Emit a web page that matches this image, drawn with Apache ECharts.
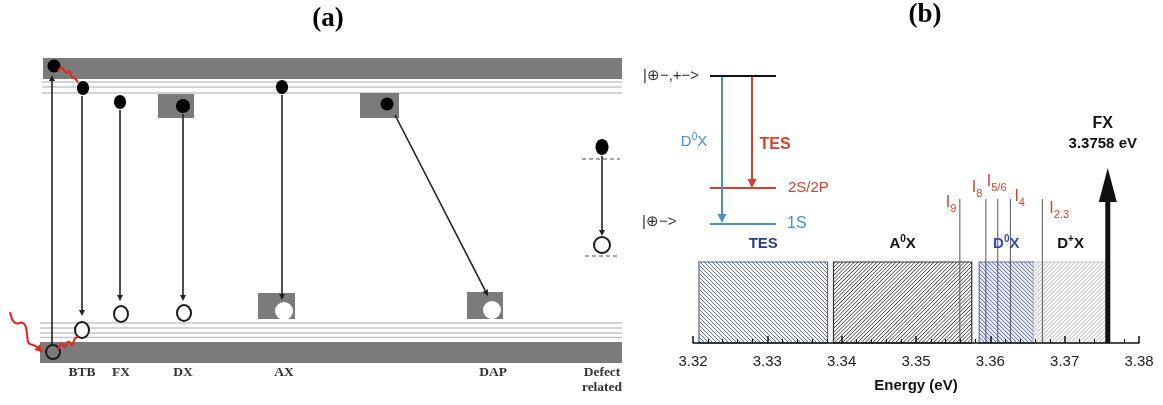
<!DOCTYPE html>
<html><head><meta charset="utf-8">
<script src="https://cdn.jsdelivr.net/npm/echarts@6/dist/echarts.min.js"></script>
<style>html,body{margin:0;padding:0;background:#fff}#c{width:1163px;height:405px}</style>
</head><body><div id="c"></div>
<script>
// ================= DATA =================
// ---- Panel (b): emission ranges on the energy axis (eV) ----
const rangeNames  = ['TES', 'A⁰X', 'D⁰X', 'D⁺X'];
const rangeStart  = [3.3208, 3.3389, 3.3585, 3.3658];
const rangeEnd    = [3.3381, 3.3575, 3.3658, 3.3758];
const rangeLevel  = [81, 81, 81, 81];            // schematic height of each range block
// ---- Panel (b): bound-exciton lines I_n ----
const lineNames   = ['9', '8', '5/6', '4', '2.3'];
const lineEnergy  = [3.3559, 3.3594, 3.3610, 3.3627, 3.3670];
const lineLevel   = [144, 144, 144, 144, 144];
// ---- Panel (b): free exciton ----
const fxEnergy = 3.3758;
const fxLevel  = 175;
const fxLabel  = ['FX', '3.3758 eV'];
// ---- Panel (b): energy axis ticks ----
const energyTicks = [3.32, 3.33, 3.34, 3.35, 3.36, 3.37, 3.38];

// ---- Panel (b) inset: two-electron-satellite level scheme (diagram units) ----
const insetLevels = [[710, 776, 76], [710, 776, 188], [710, 776, 224]];
const insetArrows = [[722, 77, 722, 223], [752, 77, 752, 188]];
const insetTexts  = [
  ['|⊕−,+−>', 643, 76], ['|⊕−>', 642, 222], ['D⁰X', 694, 142],
  ['TES', 775, 145], ['2S/2P', 788, 188], ['1S', 787, 224]
];

// ---- Panel (a): recombination schematic (diagram units) ----
const aBands  = [[43, 622, 58, 79], [40, 622, 342, 363]];
const aLevels = [[42, 622, 82], [42, 622, 87], [42, 622, 93], [40, 622, 323], [40, 622, 328], [40, 622, 333], [40, 622, 337.5]];
const aBoxes  = [[158, 194, 94, 118], [258, 295, 293, 319], [360, 399, 93, 118], [467, 503, 292, 319]];
const aBoxHoles = [[284, 311, 9], [492, 310, 9]];
const aElectrons = [[54, 66, 6.5, 6.5], [83, 88, 6, 7], [120, 102, 6, 7], [183, 106, 7, 7], [282, 87, 6, 7], [387, 104, 6.5, 6.5], [602, 147, 6.5, 8]];
const aHoles = [[53, 352, 7, 7, 0], [82, 330, 7, 8, 1], [121, 314, 7, 8, 1], [184, 313, 7, 8, 1], [602, 245, 8, 8, 1]];
const aTransitions = [[52, 345, 52, 75], [82, 96, 82, 316], [120, 110, 120, 301], [183, 114, 183, 301], [282, 95, 282, 300], [395, 115, 488, 296], [602, 156, 602, 236]];
const aDefectLevels = [[582, 620, 159], [585, 617, 256]];
const aWaves = [
  [[58, 71], [61, 67.5], [64, 70], [66.5, 73], [69, 71], [71.5, 76.5], [74.5, 78], [78, 82.5]],
  [[10, 312], [13, 321], [17, 323.5], [22, 322.5], [25.5, 326], [27, 334], [28.5, 343], [33, 345], [37, 347], [42, 352]],
  [[58, 350], [61.5, 343.5], [65, 347], [68.5, 341.5], [72, 345], [75, 338.5], [78.5, 336.5]]
];
const aWaveArrow = [0, 1, 0];
const aLabels = [['BTB', 82, 373], ['FX', 121, 373], ['DX', 183, 373], ['AX', 284, 373], ['DAP', 493, 373], ['Defect', 602, 373], ['related', 602, 388]];

// ================= STYLE / LAYOUT =================
const SANS = '"Liberation Sans", Arial, Helvetica, sans-serif';
const SERIF = '"Liberation Serif", "Times New Roman", serif';
const RED = '#d2402f', LBLUE = '#4a8fc8';
const rangeStyles = [
  { dir: -1, step: 4.0, hatch: '#3f519c', border: '#4f60a8', fill: '#ffffff', text: '#2c3c8c' },
  { dir: 1,  step: 3.8, hatch: '#2b2b2b', border: '#2f2f2f', fill: '#ffffff', text: '#111111' },
  { dir: -1, step: 4.0, hatch: '#3e4fa0', border: '#5b6cc4', fill: '#eef0fa', text: '#3b4cb6' },
  { dir: 1,  step: 4.0, hatch: '#ababab', border: '#c2c2c2', fill: '#ffffff', text: '#111111' }
];
const lineLabelOffset = [[-14, 4], [-14, -11], [-11, -17], [4, -2], [7, 10]]; // px from top of line
const insetLevelColors = ['#111111', RED, LBLUE];
const insetArrowColors = [LBLUE, RED];
const insetTextStyles = [
  { c: '#333', s: 15, w: 'normal', a: 'left' }, { c: '#333', s: 15, w: 'normal', a: 'left' },
  { c: LBLUE, s: 15, w: 'normal', a: 'center' }, { c: RED, s: 16, w: 'bold', a: 'center' },
  { c: RED, s: 15, w: 'normal', a: 'left' }, { c: LBLUE, s: 16, w: 'normal', a: 'left' }
];

function richOf(name, key) {
  let out = '';
  for (const ch of name) {
    if (ch === '⁰') out += '{p|0}';
    else if (ch === '⁺') out += '{p|+}';
    else out += '{' + key + '|' + ch + '}';
  }
  return out;
}
function supRich(size, weight, color) {
  return {
    b: { fontSize: size, fontWeight: weight, fontFamily: SANS, fill: color, lineHeight: size + 4 },
    p: { fontSize: Math.round(size * 0.66), fontWeight: weight, fontFamily: SANS, fill: color, lineHeight: 10, verticalAlign: 'top' }
  };
}
function head(tip, from, len, hw, color) {
  const dx = tip[0] - from[0], dy = tip[1] - from[1];
  const L = Math.hypot(dx, dy) || 1, ux = dx / L, uy = dy / L;
  const bx = tip[0] - ux * len, by = tip[1] - uy * len;
  return {
    base: [bx, by],
    el: { type: 'polygon', shape: { points: [tip, [bx - uy * hw, by + ux * hw], [bx + uy * hw, by - ux * hw]] }, style: { fill: color } }
  };
}
function arrow(p0, p1, color, lw, len, hw) {
  const h = head(p1, p0, len, hw, color);
  return [
    { type: 'line', shape: { x1: p0[0], y1: p0[1], x2: h.base[0], y2: h.base[1] }, style: { stroke: color, lineWidth: lw } },
    h.el
  ];
}
function hatch(x0, y0, x1, y1, dir, step, stroke, lw) {
  const out = [];
  if (dir > 0) { // "/"  : x + y = c
    for (let c = x0 + y0 + step / 2; c < x1 + y1; c += step) {
      const xa = Math.max(x0, c - y1), xb = Math.min(x1, c - y0);
      if (xb > xa) out.push({ type: 'line', shape: { x1: xa, y1: c - xa, x2: xb, y2: c - xb }, style: { stroke, lineWidth: lw } });
    }
  } else {       // "\"  : x - y = c
    for (let c = x0 - y1 + step / 2; c < x1 - y0; c += step) {
      const xa = Math.max(x0, c + y0), xb = Math.min(x1, c + y1);
      if (xb > xa) out.push({ type: 'line', shape: { x1: xa, y1: xa - c, x2: xb, y2: xb - c }, style: { stroke, lineWidth: lw } });
    }
  }
  return out;
}
function txt(text, x, y, font, fill, align, vAlign) {
  return { type: 'text', style: { text, x, y, font, fill, align: align || 'center', verticalAlign: vAlign || 'middle', textAlign: align || 'center', textVerticalAlign: vAlign || 'middle' } };
}

const PX = { coordinateSystem: 'cartesian2d', xAxisIndex: 0, yAxisIndex: 0, silent: true, z: 2 };
const EN = { coordinateSystem: 'cartesian2d', xAxisIndex: 1, yAxisIndex: 1, silent: true, z: 1 };

const series = [];

// ---------- Panel (a) ----------
series.push(Object.assign({ type: 'custom', name: 'bands', data: aBands, encode: { x: [0, 1], y: [2, 3] },
  renderItem(p, api) {
    const a = api.coord([api.value(0), api.value(2)]), b = api.coord([api.value(1), api.value(3)]);
    return { type: 'rect', shape: { x: a[0], y: a[1], width: b[0] - a[0], height: b[1] - a[1] }, style: { fill: '#7b7b7b' } };
  } }, PX));
series.push(Object.assign({ type: 'custom', name: 'levels', data: aLevels, encode: { x: [0, 1], y: 2 },
  renderItem(p, api) {
    const a = api.coord([api.value(0), api.value(2)]), b = api.coord([api.value(1), api.value(2)]);
    return { type: 'line', shape: { x1: a[0], y1: a[1], x2: b[0], y2: b[1] }, style: { stroke: '#c6c6c6', lineWidth: 1.5 } };
  } }, PX));
series.push(Object.assign({ type: 'custom', name: 'impurities', data: aBoxes, encode: { x: [0, 1], y: [2, 3] },
  renderItem(p, api) {
    const a = api.coord([api.value(0), api.value(2)]), b = api.coord([api.value(1), api.value(3)]);
    return { type: 'rect', shape: { x: a[0], y: a[1], width: b[0] - a[0], height: b[1] - a[1] }, style: { fill: '#7b7b7b' } };
  } }, PX));
series.push(Object.assign({ type: 'custom', name: 'boxHoles', data: aBoxHoles, encode: { x: 0, y: 1 },
  renderItem(p, api) {
    const c = api.coord([api.value(0), api.value(1)]), r = api.size([api.value(2), 0])[0];
    return { type: 'circle', shape: { cx: c[0], cy: c[1], r }, style: { fill: '#ffffff' } };
  } }, PX));
series.push(Object.assign({ type: 'custom', name: 'transitions', data: aTransitions, encode: { x: [0, 2], y: [1, 3] },
  renderItem(p, api) {
    const a = api.coord([api.value(0), api.value(1)]), b = api.coord([api.value(2), api.value(3)]);
    return { type: 'group', children: arrow(a, b, '#222', 1.6, 6, 3) };
  } }, PX));
series.push(Object.assign({ type: 'custom', name: 'defectLevels', data: aDefectLevels, encode: { x: [0, 1], y: 2 },
  renderItem(p, api) {
    const a = api.coord([api.value(0), api.value(2)]), b = api.coord([api.value(1), api.value(2)]);
    return { type: 'line', shape: { x1: a[0], y1: a[1], x2: b[0], y2: b[1] }, style: { stroke: '#8c8c8c', lineWidth: 1.5, lineDash: [4, 3] } };
  } }, PX));
series.push(Object.assign({ type: 'custom', name: 'electrons', data: aElectrons, encode: { x: 0, y: 1 },
  renderItem(p, api) {
    const c = api.coord([api.value(0), api.value(1)]), s = api.size([api.value(2), api.value(3)]);
    return { type: 'ellipse', shape: { cx: c[0], cy: c[1], rx: s[0], ry: s[1] }, style: { fill: '#000' } };
  } }, PX));
series.push(Object.assign({ type: 'custom', name: 'holes', data: aHoles, encode: { x: 0, y: 1 },
  renderItem(p, api) {
    const c = api.coord([api.value(0), api.value(1)]), s = api.size([api.value(2), api.value(3)]);
    return { type: 'ellipse', shape: { cx: c[0], cy: c[1], rx: s[0], ry: s[1] }, style: { fill: api.value(4) ? '#fff' : null, stroke: '#1a1a1a', lineWidth: 2 } };
  } }, PX));
series.push(Object.assign({ type: 'custom', name: 'waves', data: aWaves.map(w => w[0]), encode: { x: 0, y: 1 },
  renderItem(p, api) {
    const pts = aWaves[p.dataIndex].map(q => api.coord(q));
    const ch = [{ type: 'polyline', shape: { points: pts, smooth: 0.35 }, style: { stroke: '#e6231c', lineWidth: 2, fill: null } }];
    if (aWaveArrow[p.dataIndex]) {
      const n = pts.length;
      ch.push(head(pts[n - 1], pts[n - 2], 7, 4, '#e6231c').el);
    }
    return { type: 'group', children: ch };
  } }, PX));
series.push(Object.assign({ type: 'custom', name: 'aLabels', data: aLabels.map(l => [l[1], l[2]]), encode: { x: 0, y: 1 },
  renderItem(p, api) {
    const c = api.coord([api.value(0), api.value(1)]);
    return txt(aLabels[p.dataIndex][0], c[0], c[1], 'bold 13.5px ' + SERIF, '#333');
  } }, PX));

// ---------- Panel (b) inset ----------
series.push(Object.assign({ type: 'custom', name: 'insetLevels', data: insetLevels, encode: { x: [0, 1], y: 2 },
  renderItem(p, api) {
    const a = api.coord([api.value(0), api.value(2)]), b = api.coord([api.value(1), api.value(2)]);
    return { type: 'line', shape: { x1: a[0], y1: a[1], x2: b[0], y2: b[1] }, style: { stroke: insetLevelColors[p.dataIndex], lineWidth: 2 } };
  } }, PX));
series.push(Object.assign({ type: 'custom', name: 'insetArrows', data: insetArrows, encode: { x: [0, 2], y: [1, 3] },
  renderItem(p, api) {
    const a = api.coord([api.value(0), api.value(1)]), b = api.coord([api.value(2), api.value(3)]);
    return { type: 'group', children: arrow(a, b, insetArrowColors[p.dataIndex], 2, 9, 4.5) };
  } }, PX));
series.push(Object.assign({ type: 'custom', name: 'insetTexts', data: insetTexts.map(t => [t[1], t[2]]), encode: { x: 0, y: 1 },
  renderItem(p, api) {
    const c = api.coord([api.value(0), api.value(1)]);
    const st = insetTextStyles[p.dataIndex];
    const name = insetTexts[p.dataIndex][0];
    if (name.indexOf('⁰') >= 0) {
      return { type: 'text', style: { text: richOf(name, 'b'), x: c[0], y: c[1], align: st.a, verticalAlign: 'middle', rich: supRich(st.s, st.w, st.c) } };
    }
    return txt(name, c[0], c[1], st.w + ' ' + st.s + 'px ' + SANS, st.c, st.a);
  } }, PX));

// ---------- Panel (b) main ----------
series.push(Object.assign({ type: 'custom', name: 'ranges', data: rangeStart.map((s, i) => [s, rangeEnd[i], rangeLevel[i]]), encode: { x: [0, 1], y: 2 },
  renderItem(p, api) {
    const st = rangeStyles[p.dataIndex];
    const a = api.coord([api.value(0), api.value(2)]), b = api.coord([api.value(1), 0]);
    const x0 = a[0], y0 = a[1], x1 = b[0], y1 = b[1];
    const ch = [{ type: 'rect', shape: { x: x0, y: y0, width: x1 - x0, height: y1 - y0 }, style: { fill: st.fill } }];
    hatch(x0, y0, x1, y1, st.dir, st.step, st.hatch, 0.9).forEach(e => ch.push(e));
    ch.push({ type: 'rect', shape: { x: x0, y: y0, width: x1 - x0, height: y1 - y0 }, style: { fill: null, stroke: st.border, lineWidth: 1.2 } });
    ch.push({ type: 'text', style: { text: richOf(rangeNames[p.dataIndex], 'b'), x: (x0 + x1) / 2, y: y0 - 18, align: 'center', verticalAlign: 'middle', rich: supRich(15, 'bold', st.text) } });
    return { type: 'group', children: ch };
  } }, EN));
series.push(Object.assign({ type: 'custom', name: 'lines', data: lineEnergy.map((e, i) => [e, lineLevel[i]]), encode: { x: 0, y: 1 },
  renderItem(p, api) {
    const top = api.coord([api.value(0), api.value(1)]), bot = api.coord([api.value(0), 0]);
    const off = lineLabelOffset[p.dataIndex];
    return { type: 'group', children: [
      { type: 'line', shape: { x1: top[0], y1: top[1], x2: bot[0], y2: bot[1] }, style: { stroke: '#555', lineWidth: 1 } },
      { type: 'text', style: { text: '{b|I}{s|' + lineNames[p.dataIndex] + '}', x: top[0] + off[0], y: top[1] + off[1], align: 'left', verticalAlign: 'middle',
        rich: { b: { fontSize: 16, fontFamily: SANS, fill: RED, lineHeight: 22 }, s: { fontSize: 11, fontFamily: SANS, fill: RED, lineHeight: 12, verticalAlign: 'bottom' } } } }
    ] };
  } }, EN));
series.push(Object.assign({ type: 'custom', name: 'FX', data: [[fxEnergy, fxLevel]], encode: { x: 0, y: 1 },
  renderItem(p, api) {
    const top = api.coord([api.value(0), api.value(1)]), bot = api.coord([api.value(0), 0]);
    const h = head(top, bot, 34, 9, '#111');
    return { type: 'group', children: [
      { type: 'rect', shape: { x: bot[0] - 2.5, y: h.base[1] - 1, width: 5, height: bot[1] - h.base[1] + 1 }, style: { fill: '#111' } },
      h.el,
      txt(fxLabel[0], top[0] - 5, top[1] - 44, 'bold 16px ' + SANS, '#111'),
      txt(fxLabel[1], top[0] - 5, top[1] - 24, 'bold 15px ' + SANS, '#111')
    ] };
  } }, EN));

const option = {
  backgroundColor: '#ffffff',
  animation: false,
  graphic: [
    { type: 'text', x: 328, y: 19, style: { text: '(a)', font: 'bold 27px ' + SERIF, fill: '#000', align: 'center', verticalAlign: 'middle' } },
    { type: 'text', x: 925, y: 15, style: { text: '(b)', font: 'bold 27px ' + SERIF, fill: '#000', align: 'center', verticalAlign: 'middle' } }
  ],
  grid: [
    { left: 0, top: 0, width: 1163, height: 405 },
    { left: 693, top: 43, width: 446, height: 300 }
  ],
  xAxis: [
    { gridIndex: 0, type: 'value', min: 0, max: 1163, show: false },
    { gridIndex: 1, type: 'value', z: 10, min: energyTicks[0], max: energyTicks[energyTicks.length - 1], interval: 0.01,
      axisLine: { lineStyle: { color: '#111', width: 1.5 } },
      axisTick: { inside: true, length: 7, lineStyle: { color: '#111', width: 1.5 } },
      minorTick: { show: true, splitNumber: 5, length: 4, lineStyle: { color: '#111', width: 1 } },
      splitLine: { show: false },
      axisLabel: { fontSize: 15, fontFamily: SANS, color: '#222', margin: 11, formatter: v => v.toFixed(2) },
      name: 'Energy (eV)', nameLocation: 'middle', nameGap: 35,
      nameTextStyle: { fontSize: 15, fontWeight: 'bold', fontFamily: SANS, color: '#111' } }
  ],
  yAxis: [
    { gridIndex: 0, type: 'value', min: 0, max: 405, inverse: true, show: false },
    { gridIndex: 1, type: 'value', min: 0, max: 300, show: false }
  ],
  series
};
const chart = echarts.init(document.getElementById('c'));
chart.setOption(option);
</script>
</body></html>
